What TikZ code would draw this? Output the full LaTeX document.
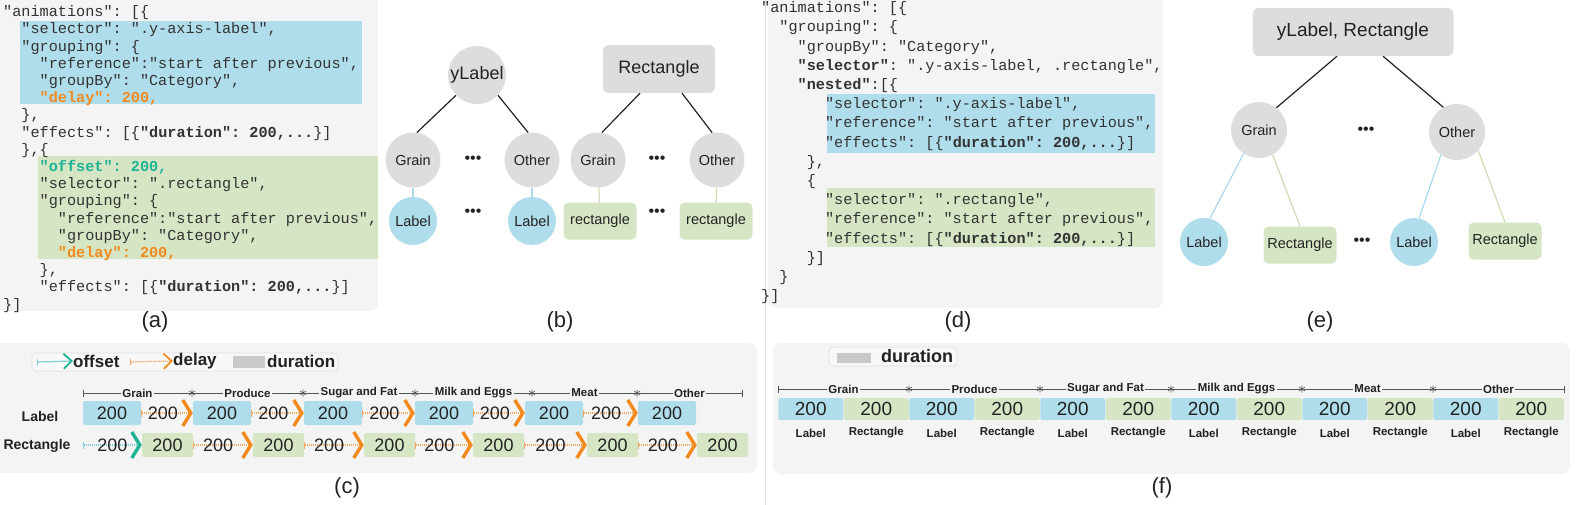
\documentclass[tikz,border=0pt]{standalone}
\usepackage{fontspec}
\setmainfont{Liberation Sans}
\setmonofont{Liberation Mono}
\usetikzlibrary{arrows.meta,positioning}

\definecolor{panelbg}{HTML}{F4F4F4}
\definecolor{legbg}{HTML}{F8F8F8}
\definecolor{legline}{HTML}{E0E0E0}
\definecolor{lblue}{HTML}{B0DDEC}
\definecolor{lgreen}{HTML}{D6E6C4}
\definecolor{ngray}{HTML}{DCDDDC}
\definecolor{swatch}{HTML}{C9C9C9}
\definecolor{dorange}{HTML}{F28A1E}
\definecolor{lorange}{HTML}{F5A860}
\definecolor{dteal}{HTML}{1DB394}
\definecolor{oteal}{HTML}{7FCFD6}
\definecolor{ink}{HTML}{222222}
\definecolor{codeink}{HTML}{333333}
\definecolor{eblue}{HTML}{A9D9EA}
\definecolor{egreen}{HTML}{CADDB3}
\definecolor{axisgray}{HTML}{555555}
\definecolor{sepgray}{HTML}{E4E4E4}

% pieces of the listings
\newcommand\ind[1]{\hspace*{#1\fontcharwd\font`\0}}
\newcommand\delaykey{\textbf{\color{dorange}"delay": 200,}}
\newcommand\offsetkey{\textbf{\color{dteal}"offset": 200,}}
\newcommand\durkey{\textbf{"duration": 200,...}}

\tikzset{
    code/.style = {font=\ttfamily\fontsize{15.2}{17.2}\selectfont, text=codeink,
        align=left, inner sep=0pt, anchor=north west},
    panel/.style = {fill=panelbg, rounded corners=8pt},
    sepline/.style = {sepgray, line width=0.8pt},
    captext/.style = {font=\fontsize{22}{22}\selectfont, text=ink, inner sep=0pt},
    cnode/.style = {circle, fill=ngray, inner sep=0pt, text=ink,
        font=\fontsize{14.5}{14.5}\selectfont},
    rnode/.style = {rectangle, rounded corners=6pt, fill=ngray, inner sep=0pt,
        text=ink, font=\fontsize{18}{18}\selectfont},
    lnode/.style = {circle, fill=lblue, inner sep=0pt, minimum size=48, text=ink,
        font=\fontsize{14.5}{14.5}\selectfont},
    gnode/.style = {rectangle, rounded corners=5pt, fill=lgreen, inner sep=0pt,
        minimum width=73, minimum height=37, text=ink,
        font=\fontsize{14.5}{14.5}\selectfont},
    dots/.style = {inner sep=0pt, text=ink, font=\fontsize{16}{16}\selectfont},
    tedge/.style = {line width=1.2pt, ink},
    bedge/.style = {line width=1.2pt, eblue},
    gedge/.style = {line width=1.2pt, egreen},
    durbox/.style = {rectangle, rounded corners=2pt, inner sep=0pt, minimum height=24,
        text=ink, font=\fontsize{18}{18}\selectfont},
    num/.style = {inner sep=0pt, text=ink, font=\fontsize{18}{18}\selectfont},
    rowname/.style = {inner sep=0pt, text=ink, font=\bfseries\fontsize{14}{14}\selectfont},
    subname/.style = {inner sep=0pt, text=ink, font=\bfseries\fontsize{11.5}{11.5}\selectfont},
    cat/.style = {inner sep=1.5pt, fill=panelbg, text=ink,
        font=\bfseries\fontsize{11.5}{11.5}\selectfont},
    axis/.style = {line width=0.6pt, axisgray},
    legbox/.style = {fill=legbg, draw=legline, line width=0.6pt, rounded corners=4pt},
    legtext/.style = {inner sep=0pt, anchor=west, text=ink,
        font=\bfseries\fontsize{17}{17}\selectfont},
    delayarr/.style = {lorange, line width=2.8pt, dash pattern=on 1.2pt off 0.8pt,
        arrows={Bar[width=7pt,line width=0.8pt]-Straight Barb[length=8pt,width=#1,line width=0.6pt 1,color=dorange]}},
    delayarr/.default = 26pt,
    offsetarr/.style = {oteal, line width=2.8pt, dash pattern=on 1.2pt off 0.8pt,
        arrows={Bar[width=7pt,line width=0.8pt]-Straight Barb[length=8pt,width=#1,line width=0.6pt 1,color=dteal]}},
    offsetarr/.default = 26pt,
}

\begin{document}
\begin{tikzpicture}[x=1pt, y=-1pt]
    \useasboundingbox (0,0) rectangle (1578,505);

    % backgrounds
    \fill[panel] (-8,-8) rectangle (378,311);
    \fill[panel] (768,-8) rectangle (1163,308);
    \fill[panel] (-8,343) rectangle (757,473);
    \fill[panel] (773,343) rectangle (1570,474);
    \draw[sepline] (765,0) -- (765,505);

    % (a) listing
    \fill[lblue] (20,21) rectangle (362,104);
    \fill[lgreen] (38,156) rectangle (378,259);
    \node[code] (codea) at (3,5.5) {%
"animations": [\{\\
\ind2"selector": ".y-axis-label",\\
\ind2"grouping": \{\\
\ind4"reference":"start after previous",\\
\ind4"groupBy": "Category",\\
\ind4\delaykey\\
\ind2\},\\
\ind2"effects": [\{\durkey\}]\\
\ind2\},\{\\
\ind4\offsetkey\\
\ind4"selector": ".rectangle",\\
\ind4"grouping": \{\\
\ind6"reference":"start after previous",\\
\ind6"groupBy": "Category",\\
\ind6\delaykey\\
\ind4\},\\
\ind4"effects": [\{\durkey\}]\\
\}]};

    % (d) listing
    \fill[lblue] (827,94) rectangle (1155,153);
    \fill[lgreen] (827,188) rectangle (1155,247);
    \node[code, font=\ttfamily\fontsize{15.2}{19.2}\selectfont] (coded) at (761,1.5) {%
"animations": [\{\\
\ind2"grouping": \{\\
\ind4"groupBy": "Category",\\
\ind4\textbf{"selector"}: ".y-axis-label, .rectangle",\\
\ind4\textbf{"nested"}:[\{\\
\ind7"selector": ".y-axis-label",\\
\ind7"reference": "start after previous",\\
\ind7"effects": [\{\durkey\}]\\
\ind5\},\\
\ind5\{\\
\ind7"selector": ".rectangle",\\
\ind7"reference": "start after previous",\\
\ind7"effects": [\{\durkey\}]\\
\ind5\}]\\
\ind2\}\\
\}]};

    % (b) two trees
    \node[cnode, minimum size=58, font=\fontsize{18}{18}\selectfont] (byl) at (477,75) {yLabel};
    \node[rnode, minimum width=112, minimum height=48] (brc) at (659,69) {Rectangle};
    \node[cnode, minimum size=55] (bg1) at (413,160) {Grain};
    \node[dots] (bd1) at (473,160) {•••};
    \node[cnode, minimum size=55] (bo1) at (532,160) {Other};
    \node[lnode] (bl1) at (413,221) {Label};
    \node[dots] (bd2) at (473,213) {•••};
    \node[lnode] (bl2) at (532,221) {Label};
    \node[cnode, minimum size=55] (bg2) at (598,160) {Grain};
    \node[dots] (bd3) at (657,160) {•••};
    \node[cnode, minimum size=55] (bo2) at (717,160) {Other};
    \node[gnode] (br1) at (600,221) {rectangle};
    \node[dots] (bd4) at (657,213) {•••};
    \node[gnode] (br2) at (716,221) {rectangle};
    \draw[tedge] (byl.224) -- (bg1.82);
    \draw[tedge] (byl.316) -- (bo1.98);
    \draw[tedge] ([xshift=-19]brc.south) -- (bg2.82);
    \draw[tedge] ([xshift=23]brc.south) -- (bo2.100);
    \draw[bedge] (bg1) -- (bl1);
    \draw[bedge] (bo1) -- (bl2);
    \draw[gedge] (bg2) -- (br1);
    \draw[gedge] (bo2) -- (br2);

    % (e) nested tree
    \node[rnode, minimum width=201, minimum height=48, font=\fontsize{19}{19}\selectfont] (etop) at (1353,32) {yLabel, Rectangle};
    \node[cnode, minimum size=56] (eg) at (1259,130) {Grain};
    \node[dots] (ed1) at (1366,131) {•••};
    \node[cnode, minimum size=56] (eo) at (1457,132) {Other};
    \node[lnode] (el1) at (1204,242) {Label};
    \node[gnode] (er1) at (1300,245) {Rectangle};
    \node[dots] (ed2) at (1362,242) {•••};
    \node[lnode] (el2) at (1414,242) {Label};
    \node[gnode] (er2) at (1505,241) {Rectangle};
    \draw[tedge] ([xshift=-16]etop.south) -- (eg.52);
    \draw[tedge] ([xshift=30]etop.south) -- (eo.119);
    \draw[bedge] (eg.237) -- (el1.76);
    \draw[gedge] (eg.299) -- (er1.north);
    \draw[bedge] (eo.235) -- (el2.78);
    \draw[gedge] (eo.319) -- (er2.north);

    % (c) legend
    \draw[legbox] (32,353) rectangle (338,371);
    \coordinate (lgo) at (37,362);
    \node[legtext] (lgoff) at (73,361) {offset};
    \draw[offsetarr=15pt, solid, line width=1.2pt] (lgo) -- (lgoff.west);
    \coordinate (lgd) at (130,362);
    \node[legtext] (lgdel) at (173,361) {delay};
    \draw[delayarr=15pt, line width=1.2pt] (lgd) -- (lgdel.west);
    \fill[swatch] (233,356) rectangle (265,368);
    \node[legtext] (lgdur) at (267,361) {duration};

    % (c) categories
    \foreach \x [count=\i] in {83,192,303,415,532,637,742}
        \coordinate (ct\i) at (\x,393);
    \foreach \t [count=\i] in {Grain,Produce,Sugar and Fat,Milk and Eggs,Meat,Other}
    {   \pgfmathtruncatemacro\j{\i+1}
        \draw[axis] (ct\i) -- (ct\j) node[cat, midway] (cc\i) {\t};
    }
    \foreach \i in {2,...,6}
        \draw[axis] (ct\i) ++(0,-3.5) -- ++(0,7) (ct\i) ++(-3,-2) -- ++(6,4)
            (ct\i) ++(-3,2) -- ++(6,-4);
    \draw[axis] (ct1) ++(0,-3.5) -- ++(0,7) (ct7) ++(0,-3.5) -- ++(0,7);

    % (c) rows
    \node[rowname] (cnl) at (40,416) {Label};
    \node[rowname] (cnr) at (37,446) {Rectangle};
    \foreach \s [count=\i] in {83,193,304,415,525,638}
        \node[durbox, fill=lblue, minimum width=58] (cl\i) at (\s+29,413) {200};
    \foreach \s [count=\i] in {142,253,364,473,587,697}
        \node[durbox, fill=lgreen, minimum width=51] (cr\i) at (\s+25.5,445) {200};
    \foreach \i in {1,...,5}
    {   \pgfmathtruncatemacro\j{\i+1}
        \draw[delayarr] (cl\i) -- (cl\j) node[num, pos=0.42] (cld\i) {200};
        \draw[delayarr] (cr\i) -- (cr\j) node[num, pos=0.42] (crd\i) {200};
    }
    \coordinate (coff) at (83,445);
    \draw[offsetarr] (coff) -- (cr1) node[num, pos=0.5] (cro) {200};

    % (f) legend
    \draw[legbox] (829,347) rectangle (957,366);
    \fill[swatch] (837,353) rectangle (871,363);
    \node[legtext, font=\bfseries\fontsize{18}{18}\selectfont] (fldur) at (881,356) {duration};

    % (f) categories and pairs
    \foreach \i in {1,...,7}
        \coordinate (ft\i) at (778+131*\i-131,389);
    \foreach \t [count=\i] in {Grain,Produce,Sugar and Fat,Milk and Eggs,Meat,Other}
    {   \pgfmathtruncatemacro\j{\i+1}
        \pgfmathsetmacro\xa{778+131*(\i-1)}
        \draw[axis] (ft\i) -- (ft\j) node[cat, midway] (fc\i) {\t};
        \node[durbox, fill=lblue, minimum width=65, minimum height=22,
            font=\fontsize{19}{19}\selectfont] (fl\i) at (\xa+32.75,409) {200};
        \node[durbox, fill=lgreen, minimum width=65, minimum height=22,
            font=\fontsize{19}{19}\selectfont] (fr\i) at (\xa+98.25,409) {200};
        \node[subname] (fln\i) at (\xa+32.75,433) {Label};
        \node[subname] (frn\i) at (\xa+98.25,433) {Rectangle};
    }
    \foreach \i in {2,...,6}
        \draw[axis] (ft\i) ++(0,-3.5) -- ++(0,7) (ft\i) ++(-3,-2) -- ++(6,4)
            (ft\i) ++(-3,2) -- ++(6,-4);
    \draw[axis] (ft1) ++(0,-3.5) -- ++(0,7) (ft7) ++(0,-3.5) -- ++(0,7);

    % captions
    \node[captext] (capa) at (155,322) {(a)};
    \node[captext] (capb) at (560,322) {(b)};
    \node[captext] (capd) at (958,322) {(d)};
    \node[captext] (cape) at (1320,322) {(e)};
    \node[captext] (capc) at (347,488) {(c)};
    \node[captext] (capf) at (1162,488) {(f)};
\end{tikzpicture}
\end{document}
